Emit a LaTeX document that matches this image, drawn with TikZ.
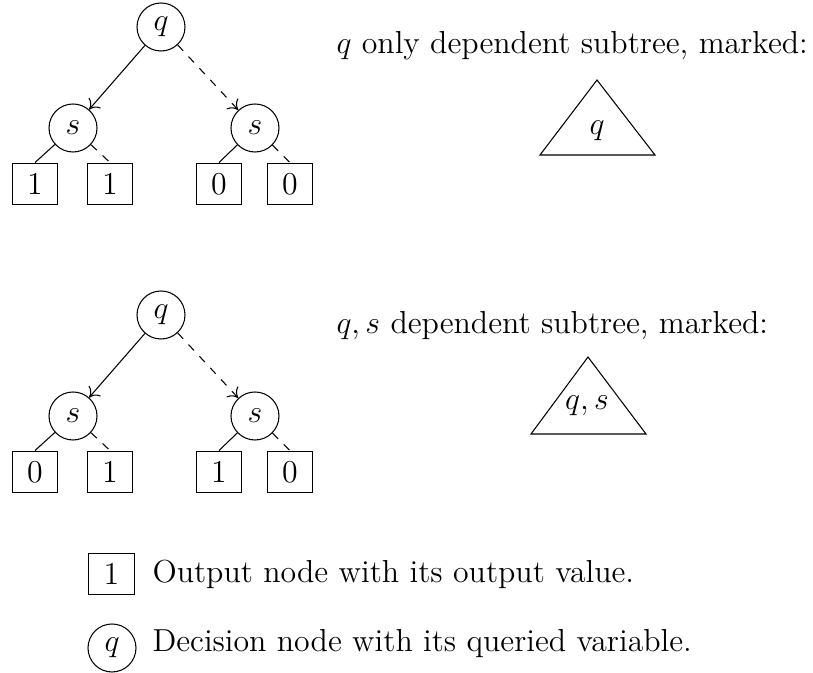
\documentclass[12pt,tikz,border=0pt]{standalone}
\usetikzlibrary{arrows.meta}
\begin{document}
\begin{tikzpicture}[x=0.377pt,y=-0.377pt,
  decision/.style={draw,circle,minimum size=18.1pt,inner sep=0pt},
  leaf/.style={draw,rectangle,minimum width=17.3pt,minimum height=15.8pt,inner sep=0pt},
  hi/.style={-{To[length=3.4pt,width=6pt]}},
  lo/.style={-{To[length=3.4pt,width=6pt]},dashed},
  caption/.style={anchor=base west,inner sep=0pt}]
\useasboundingbox (0,0) rectangle (813,673);

% first tree: output depends on q only
\node[decision] (q1) at (161,27) {$q$};
\node[decision] (s1l) at (73,128) {$s$};
\node[decision] (s1r) at (255,128) {$s$};
\node[leaf] (l11) at (35,184) {1};
\node[leaf] (l12) at (110,184) {1};
\node[leaf] (l13) at (219,184) {0};
\node[leaf] (l14) at (290,184) {0};
\draw[hi] (q1) -- (s1l);
\draw[lo] (q1) -- (s1r);
\draw (s1l) -- (l11.north);
\draw[dashed] (s1l) -- (l12.north);
\draw (s1r) -- (l13.north);
\draw[dashed] (s1r) -- (l14.north);

\node[caption] (t1) at (336,54) {$q$ only dependent subtree, marked:};
\draw (540,155) -- (597,80) -- (655,155) -- cycle;
\node (m1) at (597,131) {$q$};

% second tree: output depends on q and s
\node[decision] (q2) at (161,315) {$q$};
\node[decision] (s2l) at (73,416) {$s$};
\node[decision] (s2r) at (255,416) {$s$};
\node[leaf] (l21) at (35,472) {0};
\node[leaf] (l22) at (110,472) {1};
\node[leaf] (l23) at (219,472) {1};
\node[leaf] (l24) at (290,472) {0};
\draw[hi] (q2) -- (s2l);
\draw[lo] (q2) -- (s2r);
\draw (s2l) -- (l21.north);
\draw[dashed] (s2l) -- (l22.north);
\draw (s2r) -- (l23.north);
\draw[dashed] (s2r) -- (l24.north);

\node[caption] (t2) at (336,334) {$q,s$ dependent subtree, marked:};
\draw (531,434) -- (588,357) -- (646,434) -- cycle;
\node (m2) at (587,406) {$q,s$};

% legend
\node[leaf] (kl) at (111.5,574) {1};
\node[caption] (kt1) at (152,583) {Output node with its output value.};
\node[decision] (kd) at (112,648) {$q$};
\node[caption] (kt2) at (152,652) {Decision node with its queried variable.};
\end{tikzpicture}
\end{document}
